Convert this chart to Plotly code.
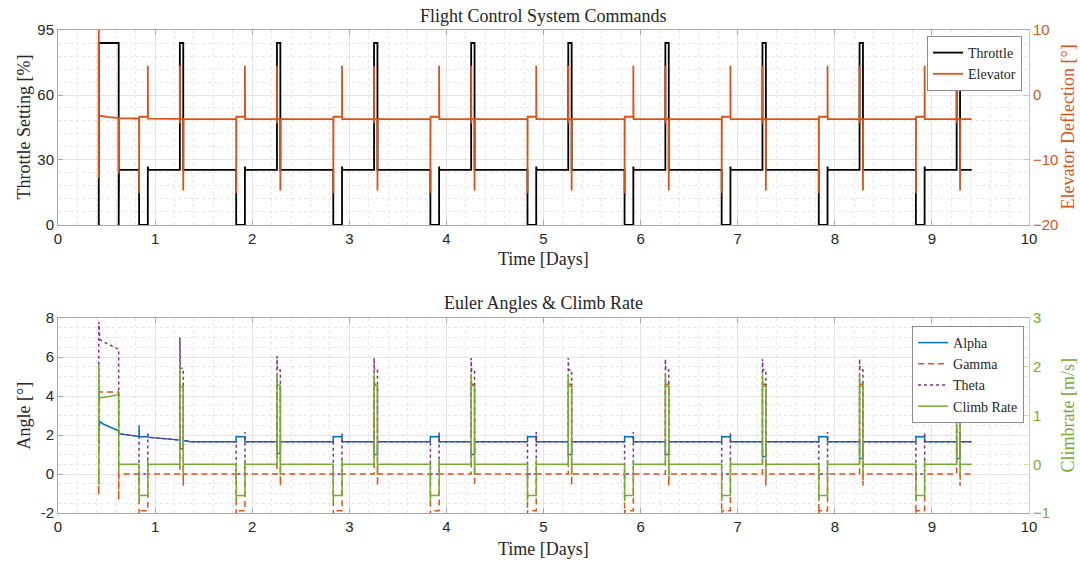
import numpy as np
import plotly.graph_objects as go

# ---------------- values ----------------
start_day = 0.42
first_switch_day = 0.625
end_day = 9.41

# daily manoeuvre event times [days]
cut_days       = [0.835, 1.835, 2.835, 3.835, 4.835, 5.835, 6.835, 7.835, 8.835]
restore_days   = [0.925, 1.925, 2.925, 3.925, 4.925, 5.925, 6.925, 7.925, 8.925]
boost_on_days  = [1.255, 2.255, 3.255, 4.255, 5.255, 6.255, 7.255, 8.255, 9.255]
boost_off_days = [1.290, 2.290, 3.290, 4.290, 5.290, 6.290, 7.290, 8.290, 9.290]

# Throttle [%] (left axis drawn 0..90 with the top tick labelled 95)
thr_initial = 84.0
thr_cruise = 25.4
thr_idle = 0.0
thr_restore_peak = 27.0
thr_boost = 84.0

# Elevator [deg]
elev_first_x = [0.42, 0.42, 0.421, 0.50, 0.625, 0.625, 0.627]
elev_first_y = [-12.8, 12.0, -3.15, -3.35, -3.55, -12.1, -3.56]
elev_base_days = [0.627, 0.80, 1.20, 1.60, 9.41]
elev_base_vals = [-3.56, -3.62, -3.68, -3.72, -3.72]
elev_cut_spike = -15.1
elev_idle = -3.35
elev_restore_spike = 4.5
elev_boost_on_spike = 4.5
elev_boost_on_dip = -4.4
elev_boost_off_spike = -14.7

# Alpha [deg]
alpha_first_x = [0.42, 0.435, 0.47, 0.53, 0.60, 0.625]
alpha_first_y = [2.40, 2.68, 2.55, 2.42, 2.28, 2.22]
alpha_base_days = [0.627, 0.835, 1.255, 1.37, 9.41]
alpha_base_vals = [2.07, 1.93, 1.74, 1.66, 1.66]
alpha_cut_peak = [2.50, 1.96, 1.96, 1.96, 1.96, 1.96, 1.96, 1.96, 1.96]
alpha_idle = 1.91
alpha_boost = [1.30, 1.05, 1.0, 1.0, 1.0, 1.0, 0.9, 0.8, 0.8]

# Gamma [deg]
gamma_first_x = [0.42, 0.42, 0.423, 0.625, 0.625, 0.628]
gamma_first_y = [-0.1, -1.08, 4.2, 4.2, -1.33, 0.0]
gamma_cruise = 0.0
gamma_cut_spike = -2.3
gamma_idle = -1.88
gamma_boost = 4.6
gamma_boost_off_spike = -0.6

# Theta [deg]
theta_first_x = [0.42, 0.42, 0.43, 0.50, 0.625, 0.625]
theta_first_y = [1.3, 7.8, 6.9, 6.7, 6.4, 2.07]
theta_cut_spike = -0.3
theta_idle = 0.0
theta_restore_spike = 2.15
theta_boost_peak = [7.0, 6.05, 5.95, 5.95, 5.95, 5.9, 5.9, 5.9, 5.9]
theta_boost_plateau = [5.42, 5.33, 5.33, 5.33, 5.33, 5.33, 5.33, 5.33, 5.33]

# Climb rate [m/s]
climb_first_x = [0.42, 0.42, 0.425, 0.50, 0.625, 0.625, 0.628]
climb_first_y = [-0.42, 2.04, 1.36, 1.38, 1.43, -0.15, 0.0]
climb_cruise = 0.0
climb_cut_spike = -0.76
climb_idle = -0.64
climb_restore_spike = 0.09
climb_boost_peak = [2.03, 1.88, 1.86, 1.86, 1.85, 1.85, 1.85, 1.84, 1.84]
climb_boost_plateau = [1.59, 1.62, 1.61, 1.61, 1.60, 1.60, 1.60, 1.60, 1.60]
climb_boost_off_spike = -0.22

# ---------------- helpers to assemble step series ----------------
def compose(first_x, first_y, base_x, base_y, windows):
    out = list(zip(first_x, first_y))
    ti = 0
    for w in windows:
        w0, w1 = w[0][0], w[-1][0]
        while ti < len(base_x) and base_x[ti] < w0:
            out.append((base_x[ti], base_y[ti]))
            ti += 1
        out.extend(w)
        while ti < len(base_x) and base_x[ti] <= w1:
            ti += 1
    while ti < len(base_x):
        out.append((base_x[ti], base_y[ti]))
        ti += 1
    return [p[0] for p in out], [p[1] for p in out]

def base_of(bx, by):
    return lambda t: float(np.interp(t, bx, by))

# Throttle
thr_wins = []
for k in range(len(cut_days)):
    A, B, C, D = cut_days[k], restore_days[k], boost_on_days[k], boost_off_days[k]
    thr_wins.append([(A, thr_cruise), (A, thr_idle), (B, thr_idle), (B, thr_restore_peak), (B + 0.004, thr_cruise)])
    thr_wins.append([(C, thr_cruise), (C, thr_boost), (D, thr_boost), (D, thr_cruise)])
thr_x, thr_y = compose([start_day, start_day, first_switch_day, first_switch_day],
                       [thr_idle, thr_initial, thr_initial, thr_idle],
                       [0.628, end_day], [thr_cruise, thr_cruise], thr_wins)

# Elevator
eb = base_of(elev_base_days, elev_base_vals)
elev_wins = []
for k in range(len(cut_days)):
    A, B, C, D = cut_days[k], restore_days[k], boost_on_days[k], boost_off_days[k]
    elev_wins.append([(A, eb(A)), (A, elev_cut_spike), (A + 0.002, elev_idle), (B, elev_idle),
                      (B, elev_restore_spike), (B + 0.002, eb(B))])
    elev_wins.append([(C, eb(C)), (C, elev_boost_on_spike), (C + 0.001, elev_boost_on_dip), (C + 0.002, eb(C)),
                      (D, eb(D)), (D, elev_boost_off_spike), (D + 0.002, eb(D))])
elev_x, elev_y = compose(elev_first_x, elev_first_y, elev_base_days, elev_base_vals, elev_wins)

# Alpha
ab = base_of(alpha_base_days, alpha_base_vals)
alpha_wins = []
for k in range(len(cut_days)):
    A, B, C, D = cut_days[k], restore_days[k], boost_on_days[k], boost_off_days[k]
    alpha_wins.append([(A, ab(A)), (A, alpha_cut_peak[k]), (A + 0.002, alpha_idle), (B, alpha_idle), (B, ab(B))])
    alpha_wins.append([(C, ab(C)), (C, alpha_boost[k]), (D, alpha_boost[k]), (D, ab(D))])
alpha_x, alpha_y = compose(alpha_first_x, alpha_first_y, alpha_base_days, alpha_base_vals, alpha_wins)

# Gamma
gamma_wins = []
for k in range(len(cut_days)):
    A, B, C, D = cut_days[k], restore_days[k], boost_on_days[k], boost_off_days[k]
    gamma_wins.append([(A, gamma_cruise), (A, gamma_cut_spike), (A + 0.002, gamma_idle), (B, gamma_idle), (B, gamma_cruise)])
    gamma_wins.append([(C, gamma_cruise), (C, gamma_boost), (D, gamma_boost), (D, gamma_boost_off_spike), (D + 0.002, gamma_cruise)])
gamma_x, gamma_y = compose(gamma_first_x, gamma_first_y, [0.628, end_day], [gamma_cruise, gamma_cruise], gamma_wins)

# Theta
theta_wins = []
for k in range(len(cut_days)):
    A, B, C, D = cut_days[k], restore_days[k], boost_on_days[k], boost_off_days[k]
    theta_wins.append([(A, ab(A)), (A, theta_cut_spike), (A + 0.002, theta_idle), (B, theta_idle),
                       (B, theta_restore_spike), (B + 0.003, ab(B))])
    theta_wins.append([(C, ab(C)), (C, theta_boost_peak[k]), (C + 0.005, theta_boost_plateau[k]),
                       (D, theta_boost_plateau[k]), (D, ab(D))])
theta_x, theta_y = compose(theta_first_x, theta_first_y, alpha_base_days, alpha_base_vals, theta_wins)

# Climb rate
climb_wins = []
for k in range(len(cut_days)):
    A, B, C, D = cut_days[k], restore_days[k], boost_on_days[k], boost_off_days[k]
    climb_wins.append([(A, climb_cruise), (A, climb_cut_spike), (A + 0.003, climb_idle), (B, climb_idle),
                       (B, climb_restore_spike), (B + 0.003, climb_cruise)])
    climb_wins.append([(C, climb_cruise), (C, climb_boost_peak[k]), (C + 0.004, climb_boost_plateau[k]),
                       (D, climb_boost_plateau[k]), (D, climb_boost_off_spike), (D + 0.003, climb_cruise)])
climb_x, climb_y = compose(climb_first_x, climb_first_y, [0.628, end_day], [climb_cruise, climb_cruise], climb_wins)

# ---------------- figure ----------------
BLACK = "#000000"
ORANGE = "#D95319"
BLUE = "#0072BD"
PURPLE = "#7E2F8E"
GREEN = "#77AC30"
TXT = "#262626"
SERIF = "Liberation Serif"
SANS = "Liberation Sans"

fig = go.Figure()
fig.add_trace(go.Scatter(x=thr_x, y=thr_y, name="Throttle", mode="lines",
                         line=dict(color=BLACK, width=1.8), xaxis="x", yaxis="y", legend="legend"))
fig.add_trace(go.Scatter(x=elev_x, y=elev_y, name="Elevator", mode="lines",
                         line=dict(color=ORANGE, width=1.8), xaxis="x", yaxis="y2", legend="legend"))
fig.add_trace(go.Scatter(x=alpha_x, y=alpha_y, name="Alpha", mode="lines",
                         line=dict(color=BLUE, width=1.5), xaxis="x2", yaxis="y3", legend="legend2"))
fig.add_trace(go.Scatter(x=gamma_x, y=gamma_y, name="Gamma", mode="lines",
                         line=dict(color=ORANGE, width=1.5, dash="6px,4px"), xaxis="x2", yaxis="y3", legend="legend2"))
fig.add_trace(go.Scatter(x=theta_x, y=theta_y, name="Theta", mode="lines",
                         line=dict(color=PURPLE, width=1.5, dash="dot"), xaxis="x2", yaxis="y3", legend="legend2"))
fig.add_trace(go.Scatter(x=climb_x, y=climb_y, name="Climb Rate", mode="lines",
                         line=dict(color=GREEN, width=1.5), xaxis="x2", yaxis="y4", legend="legend2"))

TOP_DOM = [0.5963, 1.0]
BOT_DOM = [0.0, 0.4037]
GRID = "#e4e4e4"
MINOR = "#e8e8e8"
AXL = "#a8a8a8"

def xax(anchor):
    return dict(domain=[0, 1], anchor=anchor, range=[0, 10], tickmode="array", tickvals=list(range(11)),
                showline=True, linecolor=AXL, linewidth=1, mirror="ticks", ticks="inside", ticklen=5,
                tickcolor=AXL, tickfont=dict(family=SANS, size=15, color=TXT), zeroline=False,
                showgrid=True, gridcolor=GRID, gridwidth=1,
                minor=dict(tickmode="linear", tick0=0, dtick=0.2, showgrid=True, gridcolor=MINOR, griddash="dot", ticks=""))

def yleft(dom, rng, tv, tt, mdt):
    return dict(domain=dom, anchor="x" if dom == TOP_DOM else "x2", range=rng, tickmode="array", tickvals=tv, ticktext=tt,
                showline=True, linecolor=AXL, linewidth=1, ticks="inside", ticklen=5, tickcolor=AXL,
                tickfont=dict(family=SANS, size=15, color=TXT), zeroline=False,
                showgrid=True, gridcolor=GRID, gridwidth=1,
                minor=dict(tickmode="linear", tick0=rng[0], dtick=mdt, showgrid=True, gridcolor=MINOR, griddash="dot", ticks=""))

def yright(over, anchor, rng, tv, col, linecol):
    return dict(overlaying=over, anchor=anchor, side="right", range=rng, tickmode="array", tickvals=tv,
                showline=True, linecolor=linecol, linewidth=1, ticks="inside", ticklen=5, tickcolor=linecol,
                tickfont=dict(family=SANS, size=15, color=col), zeroline=False, showgrid=False)

LEG_FONT = dict(family=SERIF, size=14, color=TXT)
fig.update_layout(
    width=1080, height=562,
    margin=dict(l=58, r=51, t=30, b=49),
    paper_bgcolor="white", plot_bgcolor="white",
    xaxis=xax("y"),
    xaxis2=xax("y3"),
    yaxis=yleft(TOP_DOM, [0, 90], [0, 30, 60, 90], ["0", "30", "60", "95"], 6),
    yaxis2=yright("y", "x", [-20, 10], [-20, -10, 0, 10], ORANGE, "#efb79d"),
    yaxis3=yleft(BOT_DOM, [-2, 8], [-2, 0, 2, 4, 6, 8], ["-2", "0", "2", "4", "6", "8"], 0.5),
    yaxis4=yright("y3", "x2", [-1, 3], [-1, 0, 1, 2, 3], GREEN, "#c6dca8"),
    showlegend=True,
    legend=dict(x=0.9928, y=0.9876, xanchor="right", yanchor="top", bgcolor="white",
                bordercolor="#8c8c8c", borderwidth=1, itemwidth=30, tracegroupgap=0,
                font=LEG_FONT),
    legend2=dict(x=0.9949, y=0.3872, xanchor="right", yanchor="top", bgcolor="white",
                 bordercolor="#8c8c8c", borderwidth=1, itemwidth=30, tracegroupgap=0,
                 font=LEG_FONT),
)

ann = []
def add_text(text, x, y, xa, ya, xs=0, ys=0, angle=0, color=TXT, size=18):
    ann.append(dict(text=text, x=x, y=y, xref="paper", yref="paper", xanchor=xa, yanchor=ya,
                    xshift=xs, yshift=ys, textangle=angle, showarrow=False,
                    font=dict(family=SERIF, size=size, color=color)))

add_text("Flight Control System Commands", 0.5, 1.0, "center", "bottom", ys=2, size=18)
add_text("Euler Angles &amp; Climb Rate", 0.5, BOT_DOM[1], "center", "bottom", ys=3, size=18)
add_text("Time [Days]", 0.5, TOP_DOM[0], "center", "top", ys=-22)
add_text("Time [Days]", 0.5, 0.0, "center", "top", ys=-24)
add_text("Throttle Setting [%]", 0.0, sum(TOP_DOM) / 2, "center", "middle", xs=-34, angle=-90)
add_text("Elevator Deflection [°]", 1.0, sum(TOP_DOM) / 2, "center", "middle", xs=39, angle=-90, color=ORANGE)
add_text("Angle [°]", 0.0, sum(BOT_DOM) / 2, "center", "middle", xs=-34, angle=-90)
add_text("Climbrate [m/s]", 1.0, sum(BOT_DOM) / 2, "center", "middle", xs=39, angle=-90, color=GREEN)
fig.update_layout(annotations=ann)

fig.write_html("out.html")
